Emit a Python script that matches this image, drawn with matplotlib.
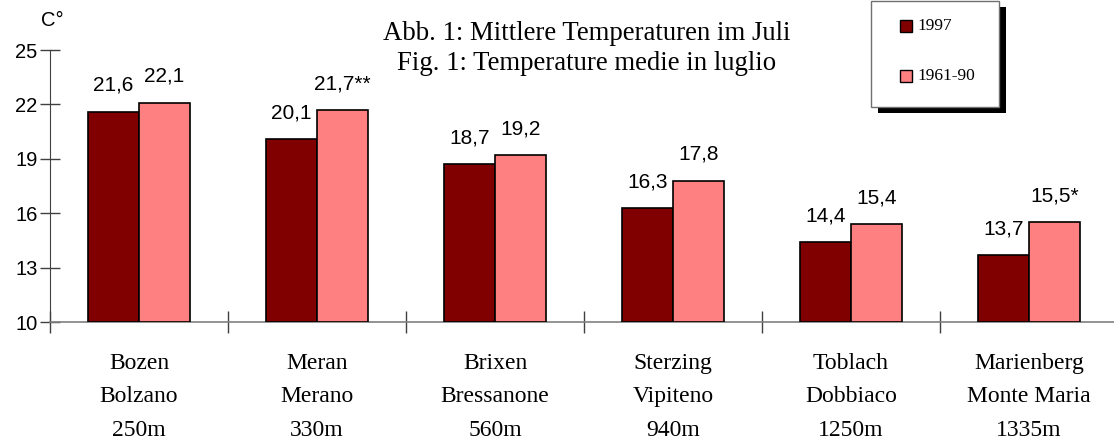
import matplotlib
matplotlib.use("Agg")
import matplotlib.pyplot as plt
from matplotlib.patches import Rectangle
import numpy as np

# ---- data ----
stations = ["Bozen\nBolzano\n250m", "Meran\nMerano\n330m", "Brixen\nBressanone\n560m",
            "Sterzing\nVipiteno\n940m", "Toblach\nDobbiaco\n1250m", "Marienberg\nMonte Maria\n1335m"]
series_names = ["1997", "1961-90"]
values_1997 = [21.6, 20.1, 18.7, 16.3, 14.4, 13.7]
values_normal = [22.1, 21.7, 19.2, 17.8, 15.4, 15.5]
labels_1997 = ["21,6", "20,1", "18,7", "16,3", "14,4", "13,7"]
labels_normal = ["22,1", "21,7**", "19,2", "17,8", "15,4", "15,5*"]
yticks = [10, 13, 16, 19, 22, 25]
title_lines = ["Abb. 1: Mittlere Temperaturen im Juli", "Fig. 1: Temperature medie in luglio"]
unit_label = "C°"

colors = ["#800000", "#FF8080"]
W, H = 1114, 441
serif = "Liberation Serif"
sans = "Liberation Sans"

fig = plt.figure(figsize=(W / 100, H / 100), dpi=100)

def fx(px):
    return px / W

def fy(py):
    return 1 - py / H

ax_left, ax_right, ax_top, ax_bottom = 50, 1114, 50, 322
ax = fig.add_axes([fx(ax_left), fy(ax_bottom), fx(ax_right - ax_left), (ax_bottom - ax_top) / H])

n = len(stations)
x = np.arange(n)
bw = 0.285
ax.bar(x + 0.5 - bw / 2, [v - 10 for v in values_1997], bottom=10, width=bw,
       color=colors[0], edgecolor="black", linewidth=1.2, zorder=3)
ax.bar(x + 0.5 + bw / 2, [v - 10 for v in values_normal], bottom=10, width=bw,
       color=colors[1], edgecolor="black", linewidth=1.2, zorder=3)

for xi, v, lab in zip(x, values_1997, labels_1997):
    ax.annotate(lab, (xi + 0.5 - bw / 2, v), xytext=(0, 12), textcoords="offset points",
                ha="center", va="bottom", fontsize=15, family=sans)
for xi, v, lab in zip(x, values_normal, labels_normal):
    ax.annotate(lab, (xi + 0.5 + bw / 2, v), xytext=(0, 12), textcoords="offset points",
                ha="center", va="bottom", fontsize=15, family=sans)

ax.set_ylim(10, 25)
ax.set_xlim(0, (ax_right - ax_left) / 178)
ax.set_yticks(yticks)
ax.set_yticklabels([str(t) for t in yticks], fontsize=14.5, family=sans)
ax.tick_params(axis="y", direction="inout", length=14, width=1, color="#404040", pad=2)

ax.set_xticks(np.arange(n))
ax.set_xticklabels([])
ax.tick_params(axis="x", which="major", direction="inout", length=16, width=1, color="#404040")
ax.set_xticks(x + 0.5, minor=True)
ax.set_xticklabels(stations, minor=True, fontsize=17, family=serif, linespacing=1.8)
ax.tick_params(axis="x", which="minor", length=0, pad=22)

for s in ["top", "right"]:
    ax.spines[s].set_visible(False)
ax.spines["left"].set_color("#404040")
ax.spines["bottom"].set_color("#808080")
ax.spines["bottom"].set_linewidth(1.2)
ax.set_facecolor("none")

fig.text(fx(52), fy(21), unit_label, fontsize=14.5, family=sans, ha="center", va="center")
fig.text(fx(587), fy(33), title_lines[0], fontsize=19.3, family=serif, ha="center", va="center")
fig.text(fx(587), fy(64), title_lines[1], fontsize=19.3, family=serif, ha="center", va="center")

# legend box with shadow
lx0, ly0, lx1, ly1 = 871, 1, 999, 107
fig.add_artist(Rectangle((fx(lx0 + 7), fy(ly1 + 6)), fx(lx1 - lx0), (ly1 - ly0) / H,
                         transform=fig.transFigure, facecolor="black", edgecolor="none"))
fig.add_artist(Rectangle((fx(lx0), fy(ly1)), fx(lx1 - lx0), (ly1 - ly0) / H,
                         transform=fig.transFigure, facecolor="white", edgecolor="#707070", linewidth=1))
for i, (name, c) in enumerate(zip(series_names, colors)):
    cy = 26 + i * 50
    fig.add_artist(Rectangle((fx(900), fy(cy + 6)), fx(12), 12 / H, transform=fig.transFigure,
                             facecolor=c, edgecolor="black", linewidth=1))
    fig.text(fx(917), fy(cy), name, fontsize=12.5, family=serif, ha="left", va="center")

fig.savefig("out.png", dpi=100)
